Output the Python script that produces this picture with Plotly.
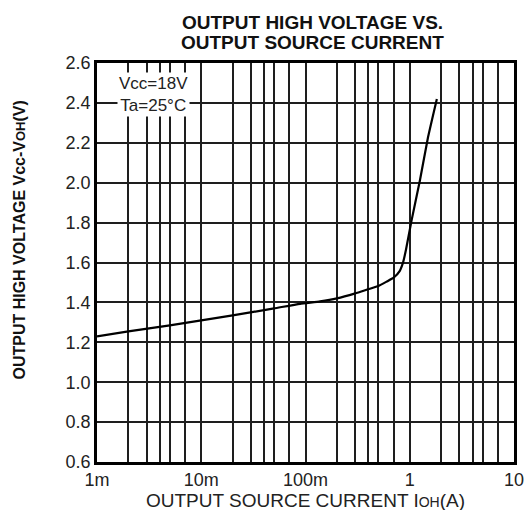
import plotly.graph_objects as go

# Data
current_a = [0.001, 0.002, 0.005, 0.01, 0.02, 0.05, 0.0885, 0.138, 0.2, 0.3, 0.4, 0.5,
             0.6, 0.7, 0.8, 0.86, 0.92, 1.04, 1.25, 1.5, 1.82]
vcc_minus_voh = [1.23, 1.255, 1.285, 1.31, 1.335, 1.37, 1.393, 1.405, 1.42, 1.445, 1.466, 1.482,
                 1.504, 1.524, 1.557, 1.598, 1.664, 1.81, 2.01, 2.23, 2.42]

x_tick_vals = [0.001, 0.01, 0.1, 1, 10]
x_tick_text = ["1m", "10m", "100m", "1", "10"]
y_tick_vals = [0.6, 0.8, 1.0, 1.2, 1.4, 1.6, 1.8, 2.0, 2.2, 2.4, 2.6]
minor_digits = [2, 3, 4, 5, 7]
x_minor_vals = [d * v for v in x_tick_vals[:-1] for d in minor_digits]

FONT = "Liberation Sans, Arial, sans-serif"
GRID = "#1e1e1e"
TXT = "#222"

fig = go.Figure()
fig.add_trace(go.Scatter(
    x=current_a, y=vcc_minus_voh, mode="lines",
    line=dict(color="black", width=2.2, shape="spline", smoothing=0.4),
    showlegend=False, hoverinfo="skip",
))

fig.update_layout(
    width=526, height=510,
    margin=dict(l=97, r=12, t=63, b=48, autoexpand=False),
    paper_bgcolor="white", plot_bgcolor="white",
    font=dict(family=FONT, size=18, color=TXT),
    xaxis=dict(
        type="log", range=[-3, 1], automargin=False,
        tickvals=x_tick_vals, ticktext=x_tick_text,
        showgrid=True, gridcolor=GRID, gridwidth=1.6,
        minor=dict(tickvals=x_minor_vals, showgrid=True, gridcolor=GRID, gridwidth=1.6, ticks=""),
        showline=True, linecolor="black", linewidth=2.5, mirror=True,
        ticks="", tickfont=dict(size=18, color=TXT),
        zeroline=False,
    ),
    yaxis=dict(
        range=[0.6, 2.6], automargin=False,
        tickvals=y_tick_vals, ticktext=[f"{v:.1f}" for v in y_tick_vals],
        showgrid=True, gridcolor=GRID, gridwidth=1.6,
        showline=True, linecolor="black", linewidth=2.5, mirror=True,
        ticks="", tickfont=dict(size=18, color=TXT),
        zeroline=False,
    ),
    annotations=[
        dict(text="<b>OUTPUT HIGH VOLTAGE VS.</b>",
             xref="paper", yref="paper", x=0.516, y=1.0, yshift=40.5,
             xanchor="center", yanchor="middle", showarrow=False,
             font=dict(size=19, color="#111", family=FONT)),
        dict(text="<b>OUTPUT SOURCE CURRENT</b>",
             xref="paper", yref="paper", x=0.516, y=1.0, yshift=20.5,
             xanchor="center", yanchor="middle", showarrow=False,
             font=dict(size=19, color="#111", family=FONT)),
        dict(text="OUTPUT SOURCE CURRENT I<span style='font-size:14px'>OH</span>(A)",
             xref="paper", yref="paper", x=0.501, y=0, yshift=-38,
             xanchor="center", yanchor="middle", showarrow=False,
             font=dict(size=19, color=TXT, family=FONT)),
        dict(text="<b>OUTPUT HIGH VOLTAGE Vcc-V<span style='font-size:13px'>OH</span>(V)</b>",
             xref="paper", yref="paper", x=0, xshift=-77, y=0.555,
             xanchor="center", yanchor="middle", textangle=-90, showarrow=False,
             font=dict(size=16, color="#111", family=FONT)),
        dict(text="Vcc=18V<br>Ta=25°C",
             xref="paper", yref="paper", x=0.136, y=0.922,
             xanchor="center", yanchor="middle", showarrow=False,
             bgcolor="white", borderpad=1,
             font=dict(size=17, color=TXT, family=FONT)),
    ],
)

fig.write_html("out.html", config={"displayModeBar": False},
               post_script="document.body.style.margin='0';")
